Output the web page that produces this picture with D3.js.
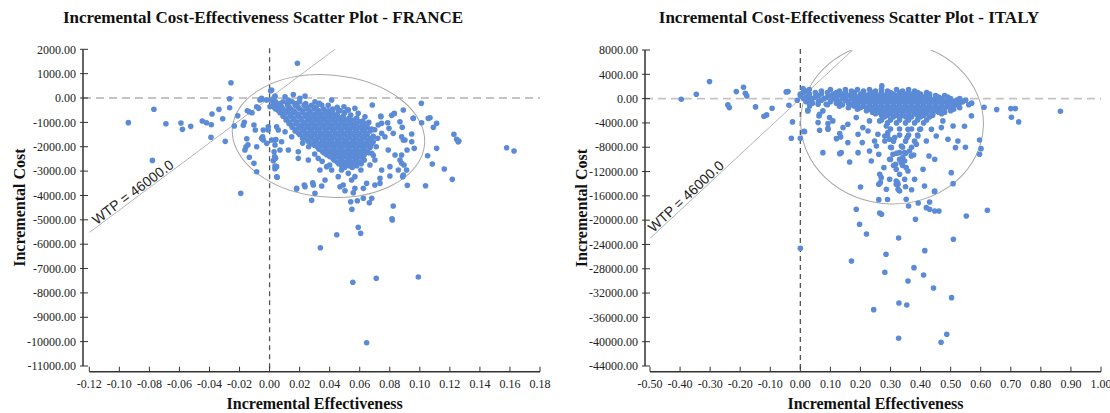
<!DOCTYPE html>
<html><head><meta charset="utf-8">
<script src="https://cdn.jsdelivr.net/npm/d3@7"></script>
<style>
body{margin:0;background:#fff;}
svg{display:block;}
</style></head><body>
<svg id="chart" width="1110" height="413"></svg>
<script>
// ---------------- DATA ----------------
const titles = ["Incremental Cost-Effectiveness Scatter Plot - FRANCE", "Incremental Cost-Effectiveness Scatter Plot - ITALY"];
const xAxisTitle = "Incremental Effectiveness";
const yAxisTitle = "Incremental Cost";
const wtpLabel = "WTP = 46000.0";
const wtpValue = 46000;

const franceXTicks = [-0.12,-0.10,-0.08,-0.06,-0.04,-0.02,0.00,0.02,0.04,0.06,0.08,0.10,0.12,0.14,0.16,0.18];
const franceYTicks = [2000,1000,0,-1000,-2000,-3000,-4000,-5000,-6000,-7000,-8000,-9000,-10000,-11000];
const italyXTicks = [-0.50,-0.40,-0.30,-0.20,-0.10,0.00,0.10,0.20,0.30,0.40,0.50,0.60,0.70,0.80,0.90,1.00];
const italyYTicks = [8000,4000,0,-4000,-8000,-12000,-16000,-20000,-24000,-28000,-32000,-36000,-40000,-44000];

// ellipse: [centre effect, centre cost, radius effect, radius cost, tilt deg]
const franceEllipse = [0.0392, -1560, 0.0642, 2504, 5];
const italyEllipse = [0.305, -4000, 0.304, 13333, 2];

// France: scattered points [effect, cost]
const franceOuter = [
[-0.094,-1010],[-0.077,-460],[-0.078,-2560],[-0.069,-1055],[-0.059,-1026],[-0.058,-1285],[-0.0525,-1162],[-0.0448,-944],[-0.042,-1014],[-0.0388,-1096],[-0.0383,-657],[-0.0337,-464],[-0.039,-1613],[-0.0312,-850],[-0.0295,-1778],[-0.0266,-29],[-0.0257,628],[-0.0266,-398],[-0.0212,-727],[-0.0192,-3912],[-0.0235,-1149],[-0.0148,-521],[-0.0135,-562],[-0.0117,-603],[-0.0168,-998],[-0.0175,-1121],[-0.0152,-1670],[-0.0157,-1999],[-0.0144,-1917],[-0.0164,-2135],[-0.0135,-2434],[-0.0104,-2681],[-0.0086,-3025],[-0.0095,-1314],[-0.0104,-1108],[-0.0086,-357],[-0.0073,-423],[-0.0042,-1724],[-0.0086,-1999],[-0.0046,-1589],[-0.0019,-1860],[-0.0009,-1314],[-0.005,-53],[0.0014,328],[0.0036,53],[0.0047,-1178],[0.0014,-1724],[0.0042,-1700],[0.0036,-1929],[0.003,-2204],[0.0034,-2400],[0.0025,-2570],[0.0036,-2900],[0.0051,-3255],[0.018,-3736],
[0.0185,1424],[0.101,-218],[0.1068,-808],[0.1112,-1040],[0.109,-1203],[0.1012,-1013],[0.0957,-834],[0.089,-493],[0.0946,-1478],[0.1227,-1490],[0.1245,-1695],[0.126,-1765],[0.1255,-1800],[0.1578,-2040],[0.1627,-2176],[0.1112,-2066],[0.1052,-2368],[0.1083,-2709],[0.1163,-2915],[0.1216,-3338],[0.1038,-3600],[0.0917,-3584],[0.089,-3161],[0.0823,-4433],[0.0815,-4955],[0.059,-5308],[0.0606,-5554],[0.0447,-5612],[0.0548,-4569],[0.054,-4257],[0.0584,-4216],[0.0624,-4117],[0.0664,-4298],[0.068,-4117],[0.028,-4200],[0.0231,-3571],[0.0287,-3477],[0.0347,-3612],[0.0302,-3912],[0.0469,-3641],[0.0502,-3805],[0.0557,-3887],[0.0047,-3231],[0.0036,-2791],[0.004,-2476],
[0.0338,-6145],[0.0554,-7565],[0.071,-7401],[0.099,-7348],[0.0646,-10045],[0.0817,-5008],
[0.0684,-287],[0.0495,-356],[0.0413,-82],[0.0236,82],[0.0158,144],[0.0007,300],[0.0741,-767],[0.0746,-1040],[0.0813,-712],[0.083,-643],[0.0956,-835],[0.1056,-835],[0.0823,-1450],[0.0879,-1587],[0.089,-1724],[0.0946,-1793],[0.0963,-2066],[0.0795,-1245],[0.079,-2134],[0.0835,-2340],[0.0868,-2545],[0.0879,-2681],[0.0912,-2955],[0.0886,-3228],[0.0801,-2818],[0.0746,-2955],[0.0735,-3297],[0.0701,-3570],[0.0646,-3502],[0.0624,-3707],[0.0568,-3707],[0.0546,-3365],[0.049,-3570],[0.0457,-3228],[0.0413,-2955],[0.038,-2818],[0.0335,-2955],[0.0369,-3365],[0.0291,-3570],[0.0236,-3639],[0.018,-3707],[0.0324,-2476],[0.0258,-2545],[0.0191,-2476],[0.0191,-2203],[0.0125,-2134],[0.0069,-2134],[0.008,-1793],[0.0036,-1724],[0.0047,-2818],[0.0147,-1587],[0.0103,-1382],[0.0058,-1314],[-0.0053,-1656],[-0.0042,-1314],[-0.0009,-1177],[-0.0064,-82],[-0.0053,-14],[-0.0019,-82],[0.069,-1793],[0.068,-2271],[0.0701,-2545],[0.0668,-2750],[0.0608,-2955],[0.0568,-3228],[0.0524,-3092],[0.0479,-2955],[0.0768,-1587],[0.0746,-1450],[0.0723,-1108],[0.0635,-767],[0.059,-630],[0.0568,-424],[0.0524,-493],[0.0457,-493],[0.0347,-287],[0.0302,-150],[0.0202,-14],[0.0125,-82],[0.0103,55],[0.0036,82],[0.0014,-82],[0.0025,-219],[0.0003,-356],
[0.074,-739],[0.0786,-1013],[0.083,-628],[0.0868,-972],[0.0883,-1203],[0.0901,-1724],[0.0915,-2135],[0.0879,-2340],[0.0895,-2750],[0.0857,-2955],[0.0801,-3202],[0.0735,-3502],
[0.042,-450],[0.047,-520],[0.05,-600],[0.054,-700],[0.058,-820],[0.062,-950],[0.045,-380],[0.039,-300],[0.033,-220],[0.052,-480],[0.066,-1000],[0.07,-1300],[0.072,-1650],[0.071,-2000],[0.069,-2350],[0.026,-2000],[0.022,-1850],[0.03,-2300],[0.035,-2600],[0.04,-2750]
];

// France: dense core, read row by row (cost level, effects along it)
const franceCoreCost = [-150,-225,-300,-375,-450,-525,-600,-675,-750,-825,-900,-975,-1050,-1125,-1200,-1275,-1350,-1425,-1500,-1575,-1650,-1725,-1800,-1875,-1950,-2025,-2100,-2175,-2250,-2325,-2400,-2475,-2550,-2625,-2700,-2775,-2850];
const franceCoreEffect = [
[0.004,0.009,0.015,0.02],
[0.007,0.012,0.018,0.024],
[0.006,0.012,0.017,0.023,0.028],
[0.003,0.008,0.013,0.019,0.025,0.031],
[0.004,0.009,0.014,0.02,0.025,0.03,0.036],
[0.006,0.011,0.016,0.022,0.027,0.033,0.039],
[0.007,0.012,0.017,0.022,0.027,0.032,0.037,0.042],
[0.009,0.014,0.019,0.025,0.03,0.035,0.04,0.045],
[0.009,0.014,0.019,0.024,0.029,0.034,0.039,0.044,0.049],
[0.011,0.016,0.021,0.027,0.032,0.037,0.042,0.047,0.053],
[0.011,0.016,0.021,0.026,0.031,0.036,0.041,0.046,0.051,0.056],
[0.013,0.018,0.024,0.029,0.034,0.039,0.044,0.049,0.054,0.06],
[0.013,0.018,0.023,0.028,0.033,0.038,0.043,0.048,0.053,0.058,0.063],
[0.015,0.021,0.026,0.031,0.036,0.041,0.046,0.051,0.056,0.062],
[0.015,0.02,0.025,0.03,0.035,0.04,0.045,0.05,0.055,0.06,0.065],
[0.018,0.023,0.028,0.033,0.038,0.043,0.048,0.053,0.058,0.063,0.068],
[0.017,0.022,0.027,0.032,0.037,0.042,0.047,0.052,0.057,0.062,0.067],
[0.019,0.024,0.029,0.034,0.039,0.044,0.049,0.054,0.059,0.064],
[0.02,0.025,0.03,0.035,0.04,0.045,0.05,0.055,0.06,0.065],
[0.023,0.028,0.033,0.038,0.043,0.048,0.053,0.058,0.063,0.069],
[0.022,0.027,0.032,0.037,0.042,0.047,0.052,0.057,0.062,0.067],
[0.025,0.03,0.035,0.04,0.045,0.05,0.055,0.06,0.065],
[0.026,0.031,0.036,0.041,0.046,0.051,0.056,0.061,0.066],
[0.028,0.033,0.038,0.043,0.048,0.053,0.058,0.063,0.068],
[0.03,0.035,0.04,0.045,0.05,0.055,0.06,0.065],
[0.032,0.037,0.042,0.047,0.052,0.057,0.062,0.067],
[0.033,0.038,0.043,0.048,0.053,0.058,0.063],
[0.035,0.04,0.045,0.05,0.055,0.06,0.065],
[0.036,0.041,0.046,0.051,0.056,0.061,0.066],
[0.038,0.043,0.048,0.053,0.058,0.063],
[0.04,0.045,0.05,0.055,0.06],
[0.042,0.047,0.052,0.057,0.062],
[0.043,0.048,0.053,0.058,0.063],
[0.045,0.05,0.055,0.06],
[0.046,0.051,0.056,0.061],
[0.048,0.053,0.058],
[0.05,0.055]
];

// Italy: scattered points [effect, cost]
const italyOuter = [
[-0.396,-100],[-0.346,724],[-0.302,2800],[-0.241,-1037],[-0.236,-1481],[-0.213,1152],[-0.189,1876],[-0.183,889],[-0.178,444],[-0.149,-1366],[-0.121,-2897],[-0.112,-2683],[-0.094,-1580],[-0.047,1103],[-0.041,1152],[-0.038,-1086],[-0.01,-263],[-0.026,-3835],[-0.03,-6518],[0.0,-6518],[0.012,-5366],[0.009,1646],[0.025,-2025],[0.062,-2848],[0.075,-8888],[0.136,-8888],[0.164,-10420],[0.12,-6584],[0.134,-6304],[0.092,-4115],[0.059,-3950],[0.064,-5201],[0.092,-5037],
[0.0,-24624],[0.17,-26715],[0.197,-20674],[0.22,-22271],[0.327,-22929],[0.509,-23143],[0.285,-25612],[0.414,-25019],[0.281,-28575],[0.378,-27818],[0.41,-29020],[0.358,-30007],[0.443,-31159],[0.503,-32756],[0.328,-33628],[0.354,-33957],[0.244,-34730],[0.487,-38781],[0.468,-40098],[0.327,-39440],
[0.271,2090],[0.611,-1416],[0.653,-1811],[0.7,-1646],[0.715,-1646],[0.865,-2074],[0.702,-3062],[0.726,-3835],[0.546,-4543],[0.508,-4494],[0.491,-6683],[0.524,-6963],[0.516,-8065],[0.549,-8000],[0.596,-6798],[0.601,-8230],[0.596,-9152],[0.502,-12180],[0.508,-13991],[0.446,-15308],[0.43,-17003],[0.392,-17168],[0.419,-17942],[0.43,-18205],[0.447,-18484],[0.461,-18484],[0.36,-17662],[0.383,-19851],[0.264,-18814],[0.27,-19028],[0.261,-16625],[0.186,-18205],[0.552,-19308],[0.622,-18370],[0.2,-14534],[0.319,-14090],
[0.261,-14090],[0.323,-13800],[0.33,-15200],[0.35,-14500],[0.29,-16600],[0.37,-15000],
[0.014,-5432],[0.025,-1910],[0.092,-4872],[0.131,-5761],[0.158,-7242],[0.192,-8888],[0.206,-7242],[0.225,-5317],[0.236,-10255],[0.23,-8609],[0.247,-6963],[0.258,-5860],[0.261,-9152],[0.264,-12444],[0.269,-13003],[0.266,-13826],[0.278,-11358],[0.286,-14913],[0.297,-9975],[0.303,-8065],[0.308,-9152],[0.314,-6419],[0.317,-10798],[0.319,-11621],[0.325,-14090],[0.33,-12444],[0.336,-7786],[0.341,-9711],[0.347,-8888],[0.352,-11358],[0.355,-6419],[0.358,-5037],[0.358,-11900],[0.363,-8609],[0.369,-9432],[0.377,-9267],[0.38,-13267],[0.386,-7506],[0.391,-6140],[0.397,-5037],[0.408,-11621],[0.413,-14370],[0.419,-6963],[0.428,-9432],[0.436,-5037],[0.447,-9975],[0.447,-15193],[0.452,-6140],[0.469,-4773],[0.474,-3670],[0.569,-2848],[0.131,-9053],[0.186,-3127],[0.192,-5860],[0.142,-4773],[0.097,-3127],[0.075,-2025],[0.064,-2568],[0.059,-922],[0.031,-1202],[0.086,-922],[0.108,-3670],[0.158,-4214],[0.208,-4773],[0.23,-3670],[0.264,-3670],[0.286,-4494],[0.291,-5596],[0.281,-6140],[0.281,-6963],[0.297,-6683],[0.253,-7786],[0.33,-8888],[0.336,-10534],[0.347,-10255],[0.297,-13267],[0.319,-13546],[0.347,-13267],[0.325,-14913],[0.352,-16559]
];

// Italy: dense band near zero cost and the plume under it, read row by row
const italyCoreCost = [1500,1250,1000,750,500,250,0,-250,-500,-750,-1000,-1250,-1500,-1750,-2000,-2250,-2500,-2750,-3000,-3500,-4000,-5000,-6000,-7000,-8000,-9000,-10000,-11000];
const italyCoreEffect = [
[0.03,0.1,0.15,0.19,0.23,0.27,0.32,0.36],
[0.02,0.07,0.13,0.17,0.21,0.25,0.29,0.34,0.38],
[0.01,0.05,0.09,0.12,0.15,0.18,0.21,0.24,0.27,0.3,0.33,0.36,0.39,0.42],
[0.0,0.03,0.07,0.11,0.14,0.17,0.2,0.23,0.25,0.27,0.29,0.31,0.33,0.35,0.37,0.4,0.43],
[0.0,0.03,0.06,0.1,0.13,0.16,0.18,0.2,0.22,0.24,0.26,0.28,0.3,0.32,0.34,0.36,0.38,0.4,0.42,0.45,0.48],
[0.02,0.05,0.09,0.12,0.15,0.17,0.19,0.21,0.23,0.25,0.27,0.29,0.31,0.33,0.35,0.37,0.39,0.41,0.43,0.46,0.49],
[0.01,0.04,0.08,0.11,0.14,0.17,0.19,0.21,0.23,0.25,0.27,0.29,0.31,0.33,0.35,0.37,0.39,0.41,0.43,0.45,0.47,0.5,0.53],
[0.03,0.07,0.12,0.15,0.18,0.2,0.22,0.24,0.26,0.28,0.3,0.32,0.34,0.36,0.38,0.4,0.42,0.44,0.46,0.49,0.52,0.55],
[0.02,0.06,0.1,0.13,0.16,0.18,0.2,0.22,0.24,0.26,0.28,0.3,0.32,0.34,0.36,0.38,0.4,0.42,0.44,0.46,0.48,0.51,0.54],
[0.04,0.12,0.16,0.19,0.21,0.23,0.25,0.27,0.29,0.31,0.33,0.35,0.37,0.39,0.41,0.43,0.45,0.47,0.5,0.53,0.57],
[0.09,0.14,0.17,0.19,0.21,0.23,0.25,0.27,0.29,0.31,0.33,0.35,0.37,0.39,0.41,0.43,0.45,0.47,0.49,0.52,0.56],
[0.13,0.18,0.21,0.23,0.25,0.27,0.29,0.31,0.33,0.35,0.37,0.39,0.41,0.43,0.45,0.47,0.49,0.51],
[0.16,0.2,0.22,0.24,0.26,0.28,0.3,0.32,0.34,0.36,0.38,0.4,0.42,0.44,0.46,0.48,0.5,0.53],
[0.19,0.23,0.26,0.28,0.3,0.32,0.34,0.36,0.38,0.4,0.42,0.44,0.46,0.48,0.51],
[0.22,0.25,0.27,0.29,0.31,0.33,0.35,0.37,0.39,0.41,0.43,0.45,0.47,0.5],
[0.24,0.26,0.28,0.3,0.32,0.34,0.36,0.38,0.4,0.42,0.44,0.46,0.48],
[0.25,0.28,0.3,0.32,0.34,0.36,0.38,0.4,0.42,0.44,0.47],
[0.27,0.29,0.32,0.34,0.36,0.39,0.41,0.44],
[0.28,0.31,0.33,0.35,0.37,0.4,0.43],
[0.27,0.3,0.33,0.36,0.39,0.42],
[0.29,0.32,0.35,0.38,0.41],
[0.3,0.33,0.37,0.4],
[0.29,0.33,0.36,0.39],
[0.31,0.35,0.38],
[0.3,0.34,0.37],
[0.32,0.35],
[0.3,0.33],
[0.31,0.34]
];

// ---------------- DRAW ----------------
const svg = d3.select("#chart");
const SERIF = "'Liberation Serif','Times New Roman',Times,serif";
const SANS = "'Liberation Sans',Arial,Helvetica,sans-serif";
const DOT = "#5b8bd6";

function rowsToPoints(costs, effects){
  const out = [];
  costs.forEach((c,i)=>effects[i].forEach(e=>out.push([e,c])));
  return out;
}

function drawPanel(o){
  const g = svg.append("g");
  const x = d3.scaleLinear().domain(o.xDomain).range(o.xRange);
  const y = d3.scaleLinear().domain(o.yDomain).range(o.yRange);
  const clipId = "clip" + o.id;
  svg.append("clipPath").attr("id", clipId).append("rect")
    .attr("x", o.xRange[0]).attr("y", o.yRange[1])
    .attr("width", o.xRange[1]-o.xRange[0]).attr("height", o.yRange[0]-o.yRange[1]);

  // title
  g.append("text").attr("x", o.titleX).attr("y", 23).attr("text-anchor","middle")
    .style("font-family", SERIF).style("font-weight","bold").style("font-size","17px").attr("fill","#111")
    .text(o.title);

  // zero reference lines
  g.append("line").attr("x1", o.yAxisX).attr("x2", o.xRange[1]).attr("y1", y(0)).attr("y2", y(0))
    .attr("stroke","#c4c4c4").attr("stroke-width",1.8).attr("stroke-dasharray","8,5");
  g.append("line").attr("x1", x(0)).attr("x2", x(0)).attr("y1", o.yRange[1]-1).attr("y2", o.xAxisY)
    .attr("stroke","#555").attr("stroke-width",1.3).attr("stroke-dasharray","5,4");

  const plot = g.append("g").attr("clip-path", `url(#${clipId})`);

  // WTP line
  const xa = o.xDomain[0], xb = o.xDomain[1];
  plot.append("line").attr("x1", x(xa)).attr("y1", y(wtpValue*xa)).attr("x2", x(xb)).attr("y2", y(wtpValue*xb))
    .attr("stroke","#b5b5b5").attr("stroke-width",1);

  // ellipse
  const e = o.ellipse;
  const cx = x(e[0]), cy = y(e[1]);
  const rx = x(e[0]+e[2]) - cx, ry = cy - y(e[1]+e[3]);
  plot.append("ellipse").attr("cx", cx).attr("cy", cy).attr("rx", rx).attr("ry", ry)
    .attr("transform", `rotate(${e[4]},${cx},${cy})`)
    .attr("fill","none").attr("stroke","#a8a8a8").attr("stroke-width",1);

  // points
  plot.append("g").selectAll("circle").data(o.points).join("circle")
    .attr("cx", d=>x(d[0])).attr("cy", d=>y(d[1])).attr("r", 2.8).attr("fill", DOT);

  // WTP label
  const ang = Math.atan2(y(wtpValue*0.1)-y(0), x(0.1)-x(0))*180/Math.PI;
  const lx = x(o.wtpLabelAt), ly = y(wtpValue*o.wtpLabelAt);
  g.append("text").attr("transform", `translate(${lx},${ly}) rotate(${ang})`).attr("dy", -1.5)
    .style("font-family", SANS).style("font-size","14px").attr("fill","#222").text(wtpLabel);

  // y axis
  g.append("line").attr("x1", o.yAxisX).attr("x2", o.yAxisX).attr("y1", o.yRange[1]).attr("y2", o.yRange[0])
    .attr("stroke","#333").attr("stroke-width",1.5);
  const yt = g.append("g").selectAll("g").data(o.yTicks).join("g").attr("transform", d=>`translate(0,${y(d)})`);
  yt.append("line").attr("x1", o.yAxisX-3).attr("x2", o.yAxisX+5).attr("stroke","#333").attr("stroke-width",1);
  yt.append("text").attr("x", o.yAxisX-7).attr("dy","0.35em").attr("text-anchor","end")
    .style("font-family", SERIF).style("font-size","12px").attr("fill","#222").text(d=>d.toFixed(2));

  // x axis
  g.append("line").attr("x1", o.xRange[0]).attr("x2", o.xRange[1]).attr("y1", o.xAxisY).attr("y2", o.xAxisY)
    .attr("stroke","#333").attr("stroke-width",1.5);
  const xt = g.append("g").selectAll("g").data(o.xTicks).join("g").attr("transform", d=>`translate(${x(d)},0)`);
  xt.append("line").attr("y1", o.xAxisY-5).attr("y2", o.xAxisY).attr("stroke","#333").attr("stroke-width",1);
  xt.append("text").attr("y", o.xAxisY+16.5).attr("text-anchor","middle")
    .style("font-family", SERIF).style("font-size","12px").attr("fill","#222").text(d=>d.toFixed(2));

  // axis titles
  g.append("text").attr("x", (o.xRange[0]+o.xRange[1])/2).attr("y", 409).attr("text-anchor","middle")
    .style("font-family", SERIF).style("font-weight","bold").style("font-size","16px").attr("fill","#111")
    .text(xAxisTitle);
  g.append("text").attr("transform", `translate(${o.yTitleX},${(o.yRange[0]+o.yRange[1])/2}) rotate(-90)`)
    .attr("text-anchor","middle")
    .style("font-family", SERIF).style("font-weight","bold").style("font-size","16px").attr("fill","#111")
    .text(yAxisTitle);
}

drawPanel({
  id:"fr", title: titles[0], titleX: 263,
  xDomain:[-0.12,0.18], xRange:[89.3,540], yDomain:[-11000,2000], yRange:[366,49.3],
  yAxisX: 83, xAxisY: 371.7, xTicks: franceXTicks, yTicks: franceYTicks,
  ellipse: franceEllipse, wtpLabelAt: -0.1145, yTitleX: 25,
  points: franceOuter.concat(rowsToPoints(franceCoreCost, franceCoreEffect))
});
drawPanel({
  id:"it", title: titles[1], titleX: 849,
  xDomain:[-0.5,1.0], xRange:[650,1101], yDomain:[-44000,8000], yRange:[366,50],
  yAxisX: 645, xAxisY: 371.7, xTicks: italyXTicks, yTicks: italyYTicks,
  ellipse: italyEllipse, wtpLabelAt: -0.485, yTitleX: 587,
  points: italyOuter.concat(rowsToPoints(italyCoreCost, italyCoreEffect))
});
</script>
</body></html>
